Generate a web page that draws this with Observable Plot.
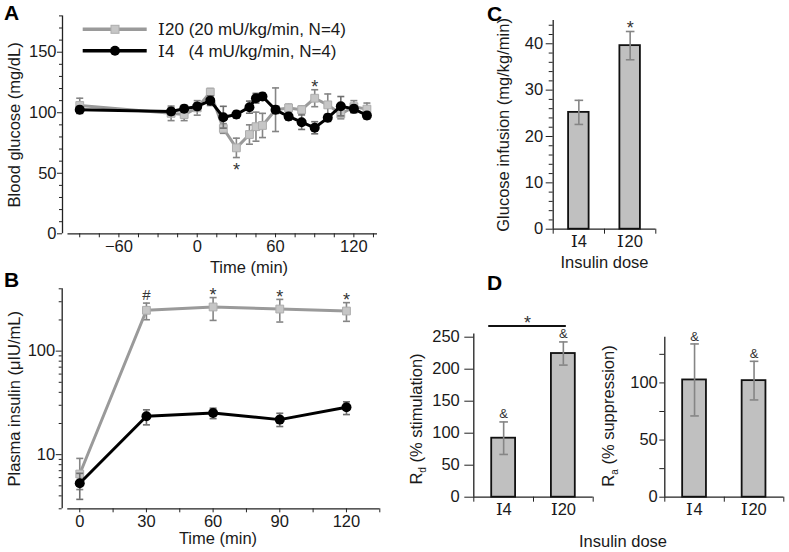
<!DOCTYPE html>
<html><head><meta charset="utf-8">
<script src="https://cdn.jsdelivr.net/npm/d3@7"></script>
<script src="https://cdn.jsdelivr.net/npm/@observablehq/plot@0.6"></script>
<style>
@font-face{font-family:"RomanI";src:local("DejaVu Serif"),local("DejaVuSerif"),local("Liberation Serif"),local("LiberationSerif-Regular");unicode-range:U+2160-2188;}
body{margin:0;background:#fff;}
#root{position:relative;width:789px;height:552px;overflow:hidden;font-family:RomanI,"Liberation Sans",Arial,sans-serif;color:#1a1a1a;background:#fff;}
#root svg{position:absolute;left:0;top:0;}
</style></head><body><div id="root"></div>
<script>
// ---------- DATA ----------
// Panel A: blood glucose (mg/dL) vs time (min)
const glucoseTime   = [-90,-20,-10,0,10,20,30,40,45,50,60,70,80,90,100,110,120,130];
const glucoseI20    = [106,99.5,98.5,104,117,87,71,82,88.5,89.5,102.5,104,102.5,112,106.5,99,105,103];
const glucoseI20Err = [6,6,5,6,3,4,8,8,12,10,18,3,3,7,9,4,5,5];
const glucoseI4     = [102.4,101,103.3,105.2,110,96.3,98.5,104.6,112,113.4,102.4,96.9,92.2,87.6,95.8,105.4,103.2,97.7];
const glucoseI4Err  = [3,3,3,3,4,9,3,5,4,3,3,3,6,5,3,8,3,3];
const glucoseSig    = [{t:30, label:"*", side:"below"}, {t:90, label:"*", side:"above"}];
const glucoseTicks  = [0,50,100,150];
const timeTicksA    = [-90,-75,-60,-45,-30,-15,0,15,30,45,60,75,90,105,120,135];
const timeLabelsA   = [-60,0,60,120];

// Panel B: plasma insulin (µIU/mL), log scale
const insulinTime  = [0,30,60,90,120];
const insulinI20   = [6.5,248,267,255,244];
const insulinI20Lo = [4.6,201,198,191,194];
const insulinI20Hi = [9.2,291,329,316,294];
const insulinI4    = [5.3,23.5,25.3,21.8,28.7];
const insulinI4Lo  = [3.7,19.4,22.3,18.7,24.4];
const insulinI4Hi  = [6.6,27.1,28.1,25.1,32.4];
const insulinSig   = ["","#","*","*","*"];
const insulinTicks = [10,100];
const timeTicksB   = [0,15,30,45,60,75,90,105,120,135];
const timeLabelsB  = [0,30,60,90,120];

// Panels C, D: by insulin dose
const doses            = ["\u21604", "\u216020"]; // Ⅰ4, Ⅰ20
const glucoseInfusion  = [25.2,39.6];
const glucoseInfErr    = [2.6,3.05];
const glucoseInfSig    = ["","*"];
const rdStim           = [92.2,224.5];
const rdStimErr        = [25.4,18.1];
const rdSig            = ["&","&"];
const raSupp           = [102.6,102];
const raSuppErr        = [31.5,16.9];
const raSig            = ["&","&"];
const legendLabels     = ["\u216020 (20 mU/kg/min, N=4)", "\u21604   (4 mU/kg/min, N=4)"];

// ---------- LAYOUT ----------
const W = 789, H = 552;
const FONT = "RomanI, 'Liberation Sans', Arial, sans-serif";
const style = {background:"transparent", fontFamily:FONT, fontSize:"16.5px", color:"#1a1a1a", overflow:"visible"};
const AX = "#222";
const ERR = "#858585";
const GRAYLINE = "#9a9a9a", GRAYFILL = "#c6c6c6";

const cap = {draw(ctx, size){ const r = Math.sqrt(size/Math.PI); ctx.moveTo(-r,0); ctx.lineTo(r,0); }};
function errBars(data, x, lo, hi, r=3.5, stroke=ERR){
  return [
    Plot.ruleX(data, {x, y1:lo, y2:hi, stroke, strokeWidth:1.6}),
    Plot.dot(data, {x, y:lo, symbol:cap, r, stroke, strokeWidth:1.6, fill:"none"}),
    Plot.dot(data, {x, y:hi, symbol:cap, r, stroke, strokeWidth:1.6, fill:"none"})
  ];
}
const root = document.getElementById("root");
function frame(f){ return {width:W, height:H, marginLeft:f.l, marginRight:W-f.r, marginTop:f.t, marginBottom:H-f.b, style}; }
const fmt = d3.format("d");

// ---------- PANEL A ----------
const A = {l:62, r:377, t:15.4, b:233.3, x:[-103.2,138.1], xAxisStart:-99, y:[0,180]};
const g20 = glucoseTime.map((t,i)=>({t, v:glucoseI20[i], e:glucoseI20Err[i]}));
const g4  = glucoseTime.map((t,i)=>({t, v:glucoseI4[i],  e:glucoseI4Err[i]}));
const sigA = glucoseSig.map(s=>{ const d = g20.find(p=>p.t===s.t); return {...s, y: s.side==="below" ? d.v-d.e : d.v+d.e}; });
root.append(Plot.plot({
  ...frame(A),
  x:{domain:A.x, label:null}, y:{domain:A.y, label:null},
  marks:[
    Plot.ruleX([A.x[0]], {stroke:AX, strokeWidth:1.3}),
    Plot.ruleY([A.y[0]], {x1:A.xAxisStart, x2:A.x[1], stroke:AX, strokeWidth:1.3}),
    Plot.axisY({ticks:d3.range(0,181,10).filter(v=>!glucoseTicks.includes(v)), tickSize:3, tickFormat:()=>"", label:null, stroke:AX}),
    Plot.axisY({ticks:glucoseTicks, tickSize:5, tickPadding:1, label:null, stroke:AX}),
    Plot.axisX({ticks:timeTicksA, tickSize:4, tickPadding:2, tickFormat:d=>timeLabelsA.includes(d)?fmt(d):"", label:null, stroke:AX}),
    ...errBars(g20, "t", d=>d.v-d.e, d=>d.v+d.e),
    Plot.line(g20, {x:"t", y:"v", stroke:GRAYLINE, strokeWidth:3}),
    Plot.dot(g20, {x:"t", y:"v", symbol:"square", r:4.4, fill:GRAYFILL, stroke:"#adadad", strokeWidth:1}),
    ...errBars(g4, "t", d=>d.v-d.e, d=>d.v+d.e, 3.5, "#6e6e6e"),
    Plot.line(g4, {x:"t", y:"v", stroke:"#000", strokeWidth:3}),
    Plot.dot(g4, {x:"t", y:"v", r:5, fill:"#000"}),
    Plot.text(sigA.filter(d=>d.side==="below"), {x:"t", y:"y", text:"label", fontSize:18, fill:"#333", lineAnchor:"middle", dy:13}),
    Plot.text(sigA.filter(d=>d.side==="above"), {x:"t", y:"y", text:"label", fontSize:18, fill:"#333", lineAnchor:"middle", dy:-2.5}),
    Plot.text(["Blood glucose (mg/dL)"], {text:d=>d, frameAnchor:"left", rotate:-90, dx:-48, textAnchor:"middle", lineAnchor:"middle"}),
    Plot.text(["Time (min)"], {text:d=>d, frameAnchor:"bottom", dx:29, dy:34, textAnchor:"middle", lineAnchor:"middle"})
  ]
}));

// ---------- PANEL B ----------
const B = {l:61.7, r:379.3, t:288.3, b:508.3, x:[-7.9,135], xAxisStart:-5.4, y:[3,400]};
const i20 = insulinTime.map((t,i)=>({t, v:insulinI20[i], lo:insulinI20Lo[i], hi:insulinI20Hi[i], s:insulinSig[i]}));
const i4  = insulinTime.map((t,i)=>({t, v:insulinI4[i],  lo:insulinI4Lo[i],  hi:insulinI4Hi[i]}));
const logMinor = [3,4,5,6,7,8,9,20,30,40,50,60,70,80,90,200,300,400];
root.append(Plot.plot({
  ...frame(B),
  x:{domain:B.x, label:null}, y:{type:"log", domain:B.y, label:null},
  marks:[
    Plot.ruleX([B.x[0]], {stroke:AX, strokeWidth:1.3}),
    Plot.ruleY([B.y[0]], {x1:B.xAxisStart, x2:B.x[1], stroke:AX, strokeWidth:1.3}),
    Plot.axisY({ticks:logMinor, tickSize:3, tickFormat:()=>"", label:null, stroke:AX}),
    Plot.axisY({ticks:insulinTicks, tickSize:6, tickPadding:1, tickFormat:fmt, label:null, stroke:AX}),
    Plot.axisX({ticks:timeTicksB, tickSize:4, tickPadding:2, tickFormat:d=>timeLabelsB.includes(d)?fmt(d):"", label:null, stroke:AX}),
    ...errBars(i20, "t", "lo", "hi"),
    Plot.line(i20, {x:"t", y:"v", stroke:GRAYLINE, strokeWidth:3}),
    Plot.dot(i20, {x:"t", y:"v", symbol:"square", r:4.4, fill:GRAYFILL, stroke:"#adadad", strokeWidth:1}),
    ...errBars(i4, "t", "lo", "hi", 3.5, "#6e6e6e"),
    Plot.line(i4, {x:"t", y:"v", stroke:"#000", strokeWidth:3}),
    Plot.dot(i4, {x:"t", y:"v", r:5, fill:"#000"}),
    Plot.text(i20.filter(d=>d.s==="*"), {x:"t", y:"hi", text:"s", fontSize:18, fill:"#333", lineAnchor:"middle", dy:-2}),
    Plot.text(i20.filter(d=>d.s==="#"), {x:"t", y:"hi", text:"s", fontSize:15, fill:"#333", lineAnchor:"middle", dy:-8}),
    Plot.text(["Plasma insulin (\u03bcIU/mL)"], {text:d=>d, frameAnchor:"left", rotate:-90, dx:-47.7, textAnchor:"middle", lineAnchor:"middle"}),
    Plot.text(["Time (min)"], {text:d=>d, frameAnchor:"bottom", dx:-3, dy:30, textAnchor:"middle", lineAnchor:"middle"})
  ]
}));

// ---------- BAR PANELS ----------
function barMarks(data, f, o){
  return [
    Plot.ruleX([0], {stroke:AX, strokeWidth:1.3}),
    Plot.ruleY([f.y[0]], {stroke:AX, strokeWidth:1.3}),
    o.minor.length ? Plot.axisY({ticks:o.minor, tickSize:o.minorSize, tickFormat:()=>"", label:null, stroke:AX}) : null,
    Plot.axisY({ticks:o.major, tickSize:o.majorSize, tickPadding:o.pad, tickFormat:d=>o.labels.includes(d)?fmt(d):"", label:null, stroke:AX}),
    Plot.axisX({ticks:d3.range(0, doses.length+1), tickSize:5, tickFormat:()=>"", label:null, stroke:AX}),
    Plot.axisX({ticks:doses.map((d,i)=>i+0.5), tickSize:0, tickPadding:6, tickFormat:v=>doses[Math.floor(v)], label:null}),
    Plot.rectY(data, {x1:d=>d.i+0.3, x2:d=>d.i+0.7, y1:f.y[0], y2:"v", fill:"#c0c0c0", stroke:"#111", strokeWidth:1.8}),
    ...errBars(data, d=>d.i+0.5, d=>d.v-d.e, d=>d.v+d.e, 4.3),
    Plot.text(data.filter(d=>d.s), {x:d=>d.i+0.5, y:d=>d.v+d.e, text:"s", fontSize:o.sigFont, fill:"#333", lineAnchor:"middle", dy:o.sigDy})
  ];
}

// Panel C
const C = {l:552.7, r:655.3, t:20.1, b:228.7, y:[0,45]};
const cData = doses.map((d,i)=>({dose:d, i, v:glucoseInfusion[i], e:glucoseInfErr[i], s:glucoseInfSig[i]}));
root.append(Plot.plot({
  ...frame(C),
  x:{domain:[0,doses.length], label:null}, y:{domain:C.y, label:null},
  marks:[
    ...barMarks(cData, C, {major:[0,10,20,30,40], labels:[0,10,20,30,40], majorSize:7, pad:3,
      minor:d3.range(0,45,2).filter(v=>v%10), minorSize:4, sigFont:18, sigDy:-3.4}),
    Plot.text(["Glucose infusion (mg/kg/min)"], {text:d=>d, frameAnchor:"left", rotate:-90, dx:-49.4, textAnchor:"middle", lineAnchor:"middle"}),
    Plot.text(["Insulin dose"], {text:d=>d, frameAnchor:"bottom", dy:33.3, textAnchor:"middle", lineAnchor:"middle"})
  ]
}));

// Panel D left (Rd)
const D1 = {l:473.3, r:592.7, t:333.5, b:496.7, y:[0,255]};
const d1Data = doses.map((d,i)=>({dose:d, i, v:rdStim[i], e:rdStimErr[i], s:rdSig[i]}));
const bracket = [{from:0, to:1, label:"*"}];
const bracketY = d3.max(d1Data, d=>d.v+d.e);
root.append(Plot.plot({
  ...frame(D1),
  x:{domain:[0,doses.length], label:null}, y:{domain:D1.y, label:null},
  marks:[
    ...barMarks(d1Data, D1, {major:[0,50,100,150,200,250], labels:[0,50,100,150,200,250], majorSize:9, pad:5,
      minor:[], minorSize:0, sigFont:13, sigDy:-8}),
    Plot.ruleY(bracket, {y:()=>bracketY, x1:d=>d.from+0.25, x2:d=>d.to+0.55, stroke:"#111", strokeWidth:2, dy:-16}),
    Plot.text(bracket, {x:d=>(d.from+0.25+d.to+0.55)/2, y:()=>bracketY, text:"label", fontSize:18, fill:"#333", lineAnchor:"middle", dy:-19})
  ]
}));

// Panel D right (Ra)
const D2 = {l:664.3, r:783.3, t:336.7, b:496.7, y:[0,140]};
const d2Data = doses.map((d,i)=>({dose:d, i, v:raSupp[i], e:raSuppErr[i], s:raSig[i]}));
root.append(Plot.plot({
  ...frame(D2),
  x:{domain:[0,doses.length], label:null}, y:{domain:D2.y, label:null},
  marks:[
    ...barMarks(d2Data, D2, {major:[0,25,50,75,100,125], labels:[0,50,100], majorSize:5, pad:2,
      minor:[], minorSize:0, sigFont:13, sigDy:-7.5})
  ]
}));

// ---------- OVERLAY: legend, panel letters, labels with subscripts ----------
const ov = d3.select(root).append("svg").attr("width",W).attr("height",H)
  .style("font-family", FONT).style("overflow","visible");
const legY = [29.3, 50.7];
const legStyles = [{stroke:GRAYLINE, marker:"square"}, {stroke:"#000", marker:"circle"}];
legendLabels.forEach((lab,i)=>{
  const g = ov.append("g");
  g.append("line").attr("x1",82.7).attr("x2",146.7).attr("y1",legY[i]).attr("y2",legY[i])
    .attr("stroke",legStyles[i].stroke).attr("stroke-width",3.5);
  if (legStyles[i].marker==="square")
    g.append("rect").attr("x",115-4).attr("y",legY[i]-4).attr("width",8).attr("height",8).attr("fill",GRAYFILL).attr("stroke","#adadad");
  else
    g.append("circle").attr("cx",115).attr("cy",legY[i]).attr("r",5).attr("fill","#000");
  g.append("text").attr("x",158).attr("y",legY[i]).attr("dy","0.35em").attr("font-size",17)
    .attr("fill","#1a1a1a").style("white-space","pre").text(lab);
});
[["A",4,20],["B",4,287],["C",487,21],["D",487,290]].forEach(([t,x,y])=>{
  ov.append("text").attr("x",x).attr("y",y).attr("font-size",21).attr("font-weight","bold").attr("fill","#000").text(t);
});
function subLabel(x, y, main, sub, rest){
  const t = ov.append("text").attr("transform",`translate(${x},${y}) rotate(-90)`)
    .attr("text-anchor","middle").attr("dominant-baseline","middle").attr("font-size",16.5).attr("fill","#1a1a1a");
  t.append("tspan").text(main);
  t.append("tspan").attr("font-size",10).attr("baseline-shift","sub").text(sub);
  t.append("tspan").text(rest);
}
subLabel(418, 419, "R", "d", " (% stimulation)");
subLabel(610, 416, "R", "a", " (% suppression)");
ov.append("text").attr("x",623).attr("y",541.7).attr("dy","0.35em").attr("text-anchor","middle")
  .attr("font-size",16.5).attr("fill","#1a1a1a").text("Insulin dose");
</script></body></html>
